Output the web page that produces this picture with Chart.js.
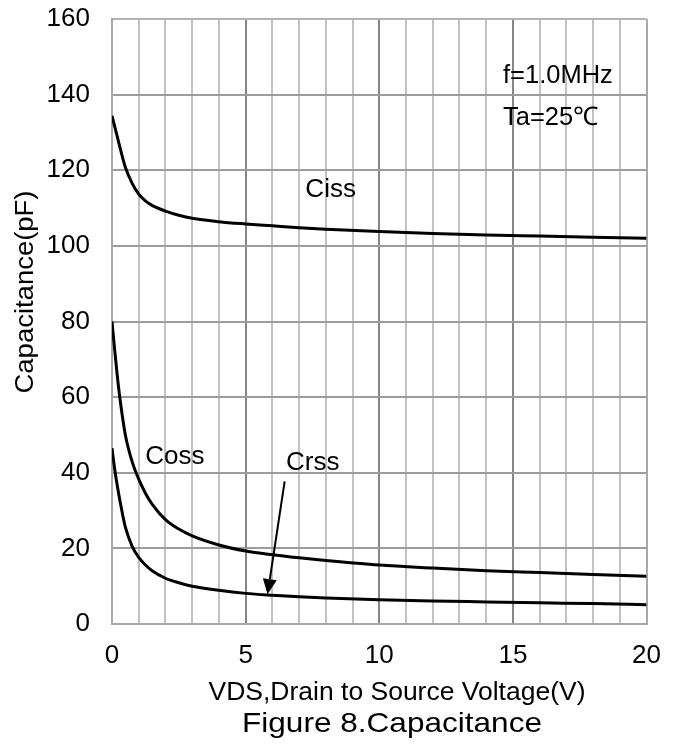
<!DOCTYPE html>
<html>
<head>
<meta charset="utf-8">
<script src="https://cdn.jsdelivr.net/npm/chart.js@4.4.1/dist/chart.umd.min.js"></script>
<style>
  html, body { margin: 0; padding: 0; background: #fff; }
  #wrap { position: relative; width: 677px; height: 747px; }
</style>
</head>
<body>
<div id="wrap"><canvas id="capChart"></canvas></div>
<script>
// VDS sample points (V) and capacitances (pF)
const vds  = [0, 0.1, 0.2, 0.3, 0.5, 0.75, 1, 1.25, 1.5, 2, 2.5, 3, 4, 5, 6, 7, 8, 10, 12, 14, 16, 18, 20];
const ciss = [134.4, 131.6, 128.8, 126.0, 120.8, 116.6, 113.7, 111.9, 110.7, 109.2, 108.1, 107.3, 106.4, 105.8, 105.3, 104.8, 104.4, 103.8, 103.3, 102.9, 102.6, 102.3, 102.0];
const coss = [80, 72.5, 65.5, 59.5, 50, 43, 38.3, 34.6, 31.7, 27.6, 25.1, 23.3, 20.9, 19.3, 18.3, 17.5, 16.8, 15.6, 14.8, 14.1, 13.6, 13.1, 12.6];
const crss = [46.5, 41, 36.5, 32.5, 25.6, 20.6, 17.6, 15.6, 14.1, 12.1, 10.9, 10.0, 8.9, 8.1, 7.6, 7.2, 6.9, 6.4, 6.1, 5.85, 5.6, 5.4, 5.1];

// axis ranges
const xMin = 0, xMax = 20, xMajor = 5;
const yMin = 0, yMax = 160, yStep = 20;

// curve names and test conditions, placed in data units
const curveNames = ['Ciss', 'Coss', 'Crss'];
const curveNameAt = [[8.18, 113.0], [2.35, 42.4], [7.51, 40.6]];
const conditions = ['f=1.0MHz', 'Ta=25℃'];
const conditionAt = [[14.63, 143.0], [14.63, 132.0]];
const crssArrow = [[6.46, 37.7], [5.82, 7.9]];

const FONT = "'Liberation Sans', Arial, sans-serif";

const toPoints = (ys) => vds.map((v, i) => ({ x: v, y: ys[i] }));

function curve(label, ys) {
  return {
    label,
    data: toPoints(ys),
    borderColor: '#000',
    borderWidth: 3,
    pointRadius: 0,
    fill: false,
    cubicInterpolationMode: 'monotone'
  };
}

// text drawn with a horizontal stretch so it fills the measured width
function stretchedText(ctx, text, px, x, y, width, angle) {
  ctx.save();
  ctx.font = px + 'px ' + FONT;
  ctx.translate(x, y);
  if (angle) ctx.rotate(angle);
  ctx.scale(width / ctx.measureText(text).width, 1);
  ctx.textAlign = 'center';
  ctx.textBaseline = 'alphabetic';
  ctx.fillStyle = '#000';
  ctx.fillText(text, 0, 0);
  ctx.restore();
}

const notes = {
  id: 'notes',
  afterDatasetsDraw(chart) {
    const { ctx, scales: { x, y } } = chart;
    ctx.save();
    ctx.fillStyle = '#000';
    ctx.textBaseline = 'alphabetic';

    ctx.font = '26px ' + FONT;
    ctx.textAlign = 'center';
    curveNames.forEach((name, i) => {
      ctx.fillText(name, x.getPixelForValue(curveNameAt[i][0]), y.getPixelForValue(curveNameAt[i][1]));
    });

    ctx.font = '25.5px ' + FONT;
    ctx.textAlign = 'left';
    conditions.forEach((t, i) => {
      ctx.fillText(t, x.getPixelForValue(conditionAt[i][0]), y.getPixelForValue(conditionAt[i][1]));
    });

    // arrow pointing at the Crss curve
    const x0 = x.getPixelForValue(crssArrow[0][0]), y0 = y.getPixelForValue(crssArrow[0][1]);
    const x1 = x.getPixelForValue(crssArrow[1][0]), y1 = y.getPixelForValue(crssArrow[1][1]);
    const a = Math.atan2(y1 - y0, x1 - x0);
    const head = 15, half = 7;
    const bx = x1 - head * Math.cos(a), by = y1 - head * Math.sin(a);
    ctx.strokeStyle = '#000';
    ctx.lineWidth = 2;
    ctx.beginPath();
    ctx.moveTo(x0, y0);
    ctx.lineTo(bx, by);
    ctx.stroke();
    ctx.beginPath();
    ctx.moveTo(x1, y1);
    ctx.lineTo(bx + half * Math.sin(a), by - half * Math.cos(a));
    ctx.lineTo(bx - half * Math.sin(a), by + half * Math.cos(a));
    ctx.closePath();
    ctx.fill();
    ctx.restore();

    // axis titles and figure caption
    stretchedText(ctx, 'VDS,Drain to Source Voltage(V)', 26, 397, 700, 377);
    stretchedText(ctx, 'Figure 8.Capacitance', 28, 392, 732, 300);
    stretchedText(ctx, 'Capacitance(pF)', 26, 33, 292, 203, -Math.PI / 2);
  }
};

new Chart(document.getElementById('capChart'), {
  type: 'line',
  data: {
    datasets: [
      curve('Ciss', ciss),
      curve('Coss', coss),
      curve('Crss', crss)
    ]
  },
  options: {
    responsive: true,
    maintainAspectRatio: false,
    animation: false,
    devicePixelRatio: 1,
    layout: {
      padding: { top: 19, right: 30, left: 0, bottom: 0 }
    },
    plugins: {
      legend: { display: false },
      tooltip: { enabled: false }
    },
    scales: {
      x: {
        type: 'linear',
        min: xMin,
        max: xMax,
        afterFit: (s) => { s.height = 123; },
        ticks: {
          stepSize: 1,
          autoSkip: false,
          maxRotation: 0,
          padding: 16,
          color: '#000',
          font: { family: FONT, size: 26 },
          callback: (v) => (v % xMajor === 0 ? v : '')
        },
        grid: {
          drawTicks: false,
          lineWidth: 2,
          color: (c) => {
            const v = c.tick ? c.tick.value : 0;
            if (v === xMin || v === xMax) return '#a8a8a8';
            return v % xMajor === 0 ? '#868686' : '#c2c2c2';
          }
        },
        border: { color: '#a8a8a8', width: 2 }
      },
      y: {
        min: yMin,
        max: yMax,
        // fixed width; the tick padding should not push the plot down
        afterFit: (s) => { s.width = 112; s.paddingTop = 0; s.paddingBottom = 0; },
        ticks: {
          stepSize: yStep,
          padding: 22,
          color: '#000',
          font: { family: FONT, size: 26 }
        },
        grid: {
          drawTicks: false,
          lineWidth: 2,
          color: (c) => (c.tick && c.tick.value === yMax ? '#b4b4b4' : '#9c9c9c')
        },
        border: { color: '#a8a8a8', width: 2 }
      }
    }
  },
  plugins: [notes]
});
</script>
</body>
</html>
